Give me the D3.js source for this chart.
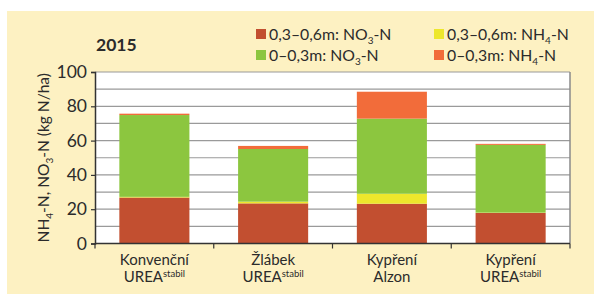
<!DOCTYPE html>
<html>
<head>
<meta charset="utf-8">
<script src="https://cdn.jsdelivr.net/npm/d3@7"></script>
<style>
  body { margin: 0; background: #fff; }
  text { font-family: Lato, "Open Sans", sans-serif; fill: #2b2b2b; }
</style>
</head>
<body>
<div id="chart"></div>
<script>
(function() {

    var width = 594;
    var height = 295;

    // data (kg N/ha)
    var categories = ["Konvenční|UREA", "Žlábek|UREA", "Kypření|Alzon", "Kypření|UREA"];
    var superscripts = ["stabil", "stabil", "", "stabil"];
    var deepNO3 = [26.8, 23.4, 23.2, 17.8];
    var deepNH4 = [0.4, 1.0, 5.8, 0.2];
    var topNO3 = [47.7, 30.7, 43.8, 39.5];
    var topNH4 = [0.8, 1.8, 15.7, 0.6];
    var yTicks = [0, 20, 40, 60, 80, 100];

    var seriesKeys = ["deepNO3", "deepNH4", "topNO3", "topNH4"];
    var colors = {deepNO3: "#c24f30", deepNH4: "#ede72c", topNO3: "#8cc63f", topNH4: "#f26c3a"};

    var rows = categories.map(function(c, i) {
        return {cat: c, deepNO3: deepNO3[i], deepNH4: deepNH4[i], topNO3: topNO3[i], topNH4: topNH4[i]};
    });

    var margin = {left: 95, right: 24, top: 72, bottom: 51.5};

    var svg = d3.select("#chart")
        .append("svg")
        .attr("width", width)
        .attr("height", height);

    // cream panel
    svg.append("rect")
        .attr("x", 7).attr("y", 11)
        .attr("width", width - 7).attr("height", 283)
        .attr("fill", "#fdf1c2");

    var x = d3.scaleBand()
        .domain(categories)
        .range([margin.left, width - margin.right])
        .paddingInner(0.41)
        .paddingOuter(0.205);

    var y = d3.scaleLinear()
        .domain([0, 100])
        .range([height - margin.bottom, margin.top]);

    // plot background
    svg.append("rect")
        .attr("x", margin.left).attr("y", margin.top)
        .attr("width", width - margin.right - margin.left)
        .attr("height", y(0) - margin.top)
        .attr("fill", "#fff");

    // gridlines
    svg.append("g")
        .selectAll("line")
        .data(d3.range(10, 101, 10))
        .enter().append("line")
        .attr("x1", margin.left).attr("x2", width - margin.right)
        .attr("y1", d => y(d)).attr("y2", d => y(d))
        .attr("stroke", "#9a9a9a")
        .attr("stroke-width", 1.2);

    // right border
    svg.append("line")
        .attr("x1", width - margin.right).attr("x2", width - margin.right)
        .attr("y1", margin.top).attr("y2", y(0))
        .attr("stroke", "#8a8a8a")
        .attr("stroke-width", 1.5);

    // stacked bars
    var stack = d3.stack().keys(seriesKeys);
    var layers = stack(rows);

    svg.append("g")
        .selectAll("g")
        .data(layers)
        .enter().append("g")
        .attr("fill", d => colors[d.key])
        .selectAll("rect")
        .data(d => d)
        .enter().append("rect")
        .attr("x", d => x(d.data.cat))
        .attr("width", x.bandwidth())
        .attr("y", d => y(d[1]))
        .attr("height", d => y(d[0]) - y(d[1]));

    // y axis
    var yAxis = d3.axisLeft(y)
        .tickValues(yTicks)
        .tickSize(4)
        .tickPadding(4);

    var gy = svg.append("g")
        .attr("transform", "translate(" + margin.left + ",0)")
        .call(yAxis);
    gy.select(".domain").attr("stroke", "#333").attr("stroke-width", 1.5);
    gy.selectAll(".tick line").attr("stroke", "#333").attr("stroke-width", 1.2);
    gy.selectAll(".tick text")
        .attr("font-family", "Lato, sans-serif")
        .attr("font-size", 17.5)
        .attr("fill", "#2b2b2b");

    // x axis with ticks at band boundaries
    var bounds = d3.range(0, categories.length + 1).map(i => margin.left + i * (width - margin.right - margin.left) / categories.length);

    svg.append("line")
        .attr("x1", margin.left).attr("x2", width - margin.right)
        .attr("y1", y(0)).attr("y2", y(0))
        .attr("stroke", "#333")
        .attr("stroke-width", 1.5);

    svg.append("g")
        .selectAll("line")
        .data(bounds)
        .enter().append("line")
        .attr("x1", d => d).attr("x2", d => d)
        .attr("y1", y(0)).attr("y2", y(0) + 5)
        .attr("stroke", "#333")
        .attr("stroke-width", 1.2);

    // category labels
    var labels = svg.append("g")
        .selectAll("text")
        .data(categories)
        .enter().append("text")
        .attr("text-anchor", "middle")
        .attr("font-size", 15)
        .attr("x", d => x(d) + x.bandwidth() / 2);

    labels.append("tspan")
        .attr("x", d => x(d) + x.bandwidth() / 2)
        .attr("y", 265)
        .text(d => d.split("|")[0]);

    labels.append("tspan")
        .attr("x", d => x(d) + x.bandwidth() / 2)
        .attr("y", 282)
        .text(d => d.split("|")[1])
        .append("tspan")
        .attr("font-size", 9.5)
        .attr("dy", -5)
        .text((d, i) => superscripts[i]);

    // y axis title
    var yt = svg.append("text")
        .attr("transform", "translate(49," + ((y(0) + y(100)) / 2) + ") rotate(-90)")
        .attr("text-anchor", "middle")
        .attr("font-size", 15.5);
    yt.append("tspan").text("NH");
    yt.append("tspan").attr("font-size", 10).attr("dy", 4).text("4");
    yt.append("tspan").attr("dy", -4).text("-N, NO");
    yt.append("tspan").attr("font-size", 10).attr("dy", 4).text("3");
    yt.append("tspan").attr("dy", -4).text("-N (kg N/ha)");

    // title
    svg.append("text")
        .attr("x", 96).attr("y", 51)
        .attr("font-size", 17.5)
        .attr("font-weight", "bold")
        .text("2015");

    // legend
    var legendItems = [
        {key: "deepNO3", pre: "0,3–0,6m: NO", sub: "3", post: "-N", col: 0, row: 0},
        {key: "deepNH4", pre: "0,3–0,6m: NH", sub: "4", post: "-N", col: 1, row: 0},
        {key: "topNO3", pre: "0–0,3m: NO", sub: "3", post: "-N", col: 0, row: 1},
        {key: "topNH4", pre: "0–0,3m: NH", sub: "4", post: "-N", col: 1, row: 1}
    ];
    var legendX = [256, 434];
    var legendY = [29, 50];

    var lg = svg.append("g")
        .selectAll("g")
        .data(legendItems)
        .enter().append("g")
        .attr("transform", d => "translate(" + legendX[d.col] + "," + legendY[d.row] + ")");

    lg.append("rect")
        .attr("width", 10).attr("height", 10)
        .attr("fill", d => colors[d.key]);

    var lt = lg.append("text")
        .attr("x", 13).attr("y", 10.5)
        .attr("font-size", 15.8);
    lt.append("tspan").text(d => d.pre);
    lt.append("tspan").attr("font-size", 10).attr("dy", 4).text(d => d.sub);
    lt.append("tspan").attr("dy", -4).text(d => d.post);

})();
</script>
</body>
</html>
